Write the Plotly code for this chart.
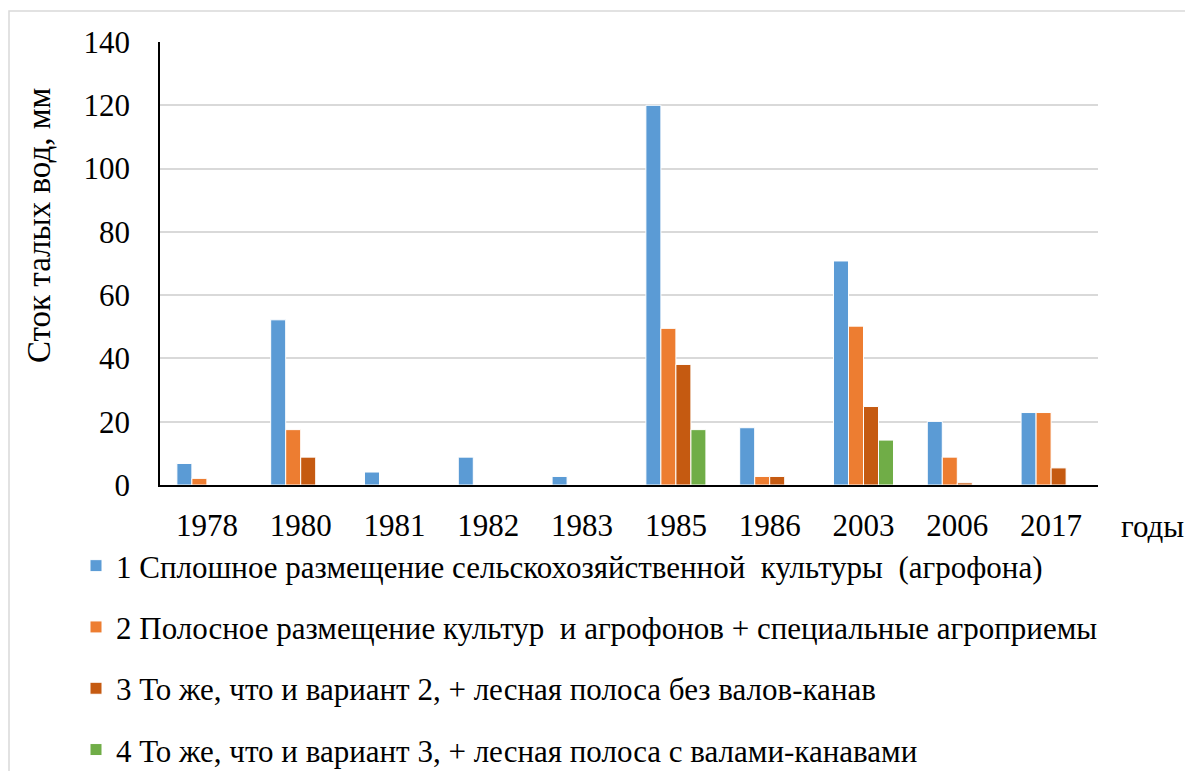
import plotly.graph_objects as go

years = ["1978", "1980", "1981", "1982", "1983", "1985", "1986", "2003", "2006", "2017"]
s1 = [6.8, 52.2, 4.1, 8.8, 2.7, 120.0, 18.1, 70.8, 20.1, 22.9]
s2 = [2.1, 17.5, None, None, None, 49.5, 2.7, 50.2, 8.8, 22.9]
s3 = [None, 8.8, None, None, None, 38.1, 2.7, 24.8, 0.7, 5.4]
s4 = [None, None, None, None, None, 17.5, None, 14.2, None, None]
names = [
    "1 Сплошное размещение сельскохозяйственной  культуры  (агрофона)",
    "2 Полосное размещение культур  и агрофонов + специальные агроприемы",
    "3 То же, что и вариант 2, + лесная полоса без валов-канав",
    "4 То же, что и вариант 3, + лесная полоса с валами-канавами",
]
colors = ["#5B9BD5", "#ED7D31", "#C55A11", "#70AD47"]
yticks = [0, 20, 40, 60, 80, 100, 120, 140]
y_title = "Сток талых вод, мм"
x_title = "годы"

FONT = "Liberation Serif, Times New Roman, serif"

fig = go.Figure()
for i, (vals, nm, col) in enumerate(zip([s1, s2, s3, s4], names, colors)):
    fig.add_trace(go.Bar(
        x=years, y=vals, name=nm, legendgroup=f"g{i}",
        marker=dict(color=col, line=dict(color="white", width=1)),
    ))

# page body has an 8px margin; work in screen pixels and convert
OFF = 8
W, H = 1193 - 2 * OFF, 771 - OFF
SL, SR, ST, SB = 160, 1098, 42, 485  # plot area in screen px
L, T = SL - OFF, ST - OFF
R, B = W - (SR - OFF), H - (SB - OFF)
pw, ph = SR - SL, SB - ST


def px(x):
    return (x - SL) / pw


def py(y):
    return (SB - y) / ph


fig.update_layout(
    width=W, height=H,
    margin=dict(l=L, r=R, t=T, b=B, autoexpand=False),
    paper_bgcolor="white", plot_bgcolor="white",
    font=dict(family=FONT, size=30, color="black"),
    barmode="group", bargap=0.36, bargroupgap=0,
    showlegend=True,
    legend=dict(
        x=px(76), y=py(539), xanchor="left", yanchor="top",
        orientation="v", traceorder="grouped", tracegroupgap=18,
        itemwidth=30, font=dict(family=FONT, size=31, color="black"),
        bgcolor="rgba(0,0,0,0)",
    ),
    xaxis=dict(
        type="category", showgrid=False, showline=True, linecolor="black",
        linewidth=2, ticks="", tickfont=dict(size=31), ticklabelstandoff=12,
    ),
    yaxis=dict(
        range=[0, 140], tickvals=yticks, showgrid=True, gridcolor="#D9D9D9",
        gridwidth=1.5, showline=True, linecolor="black", linewidth=1.5,
        zeroline=False, ticks="", tickfont=dict(size=31), ticklabelstandoff=22,
    ),
    shapes=[dict(
        type="rect", xref="paper", yref="paper",
        x0=px(9), y0=py(11), x1=px(1215), y1=py(800),
        line=dict(color="#D9D9D9", width=1.5), fillcolor="rgba(0,0,0,0)",
        layer="below",
    )],
    annotations=[
        dict(
            text=x_title, xref="paper", yref="paper", x=px(1152), y=py(526),
            xanchor="center", yanchor="middle", showarrow=False,
            font=dict(family=FONT, size=31, color="black"),
        ),
        dict(
            text=y_title, xref="paper", yref="paper", x=px(39), y=py(225),
            xanchor="center", yanchor="middle", showarrow=False, textangle=-90,
            font=dict(family=FONT, size=33, color="black"),
        ),
    ],
)

fig.write_html("out.html")
